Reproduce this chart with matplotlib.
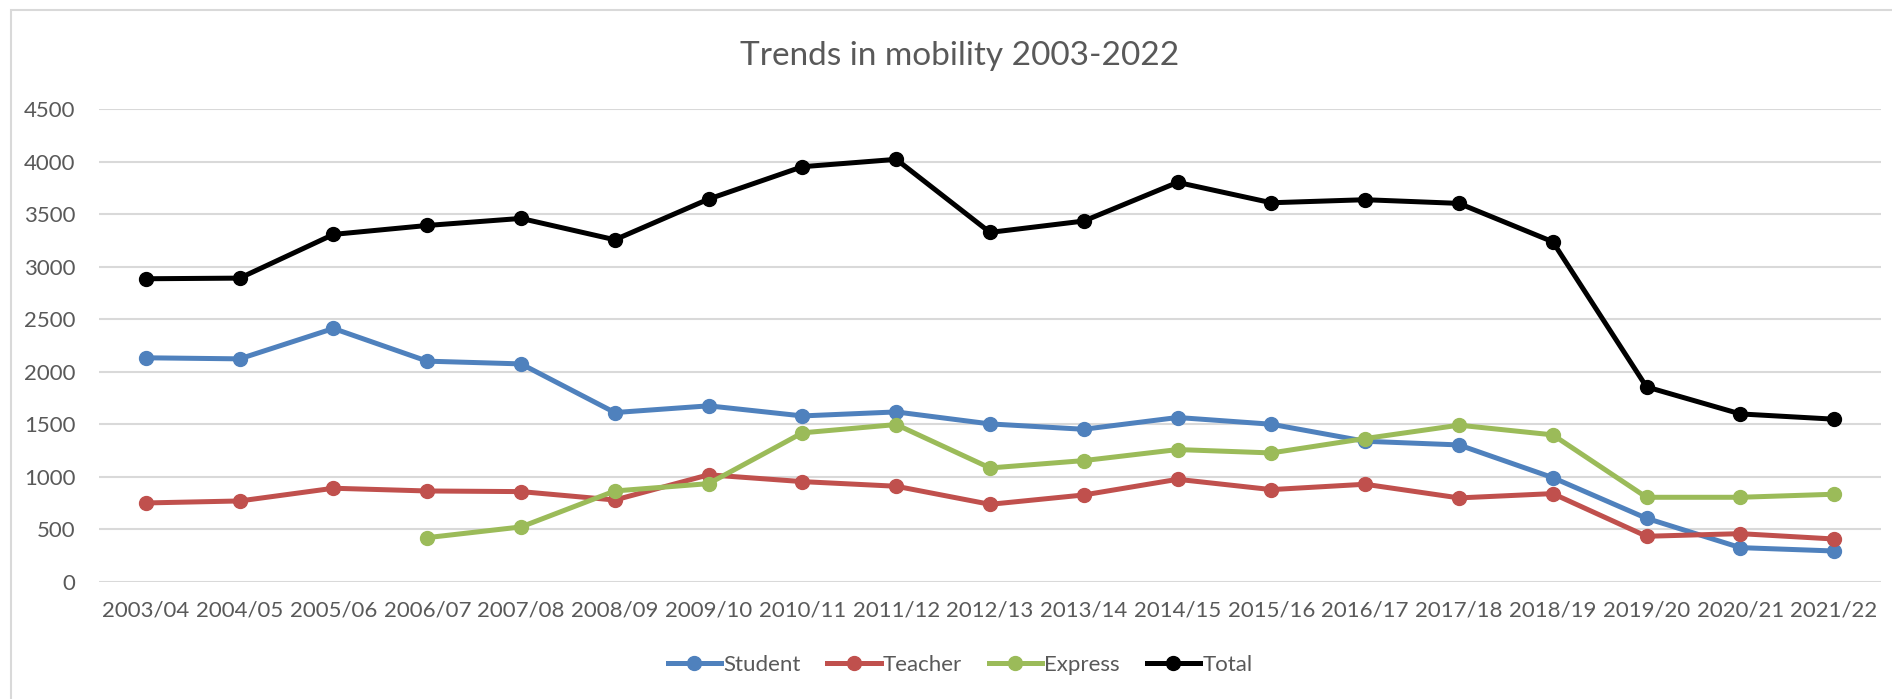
import numpy as np
import matplotlib
matplotlib.use("Agg")
import matplotlib.pyplot as plt
from matplotlib.patches import Rectangle

plt.rcParams['font.family'] = ['Lato', 'DejaVu Sans']

years = ['2003/04', '2004/05', '2005/06', '2006/07', '2007/08', '2008/09', '2009/10',
         '2010/11', '2011/12', '2012/13', '2013/14', '2014/15', '2015/16', '2016/17',
         '2017/18', '2018/19', '2019/20', '2020/21', '2021/22']
student = [2133, 2123, 2412, 2101, 2075, 1612, 1676, 1580, 1618, 1504, 1453, 1565, 1501,
           1339, 1304, 993, 606, 327, 295]
teacher = [752, 771, 892, 866, 860, 780, 1020, 955, 911, 739, 828, 977, 879,
           930, 800, 841, 435, 460, 409]
express = [np.nan, np.nan, np.nan, 422, 524, 866, 936, 1419, 1498, 1085, 1155, 1260, 1228,
           1365, 1492, 1400, 806, 806, 835]
total = [2885, 2891, 3307, 3392, 3459, 3256, 3643, 3951, 4021, 3326, 3434, 3802, 3608,
         3637, 3602, 3237, 1856, 1599, 1549]

series = [('Student', student, '#4F81BD'),
          ('Teacher', teacher, '#C0504D'),
          ('Express', express, '#9BBB59'),
          ('Total', total, '#000000')]

fig = plt.figure(figsize=(18.92, 6.99), dpi=100)
ax = fig.add_axes([99 / 1892, 1 - 582 / 699, 1782 / 1892, 473 / 699])

# outer chart frame (only top and left edges show in the crop)
fig.patches.append(Rectangle((11 / 1892, -0.1), 2, 1.1 - 10 / 699, transform=fig.transFigure,
                             fill=False, edgecolor='#D9D9D9', linewidth=1.5))

x = np.arange(len(years))
for name, vals, col in series:
    ax.plot(x, vals, '-o', color=col, lw=3.6, ms=10, label=name, zorder=3)

ax.set_xlim(-0.5, len(years) - 0.5)
ax.set_ylim(0, 4500)
ax.set_yticks(np.arange(0, 4501, 500))
ax.set_xticks(x)
ax.set_xticklabels(years)
ax.grid(axis='y', color='#D9D9D9', lw=1.5)
ax.set_axisbelow(True)
for s in ax.spines.values():
    s.set_visible(False)
ax.tick_params(length=0, labelsize=16, labelcolor='#595959')
ax.tick_params(axis='y', pad=17)
ax.tick_params(axis='x', pad=13)

fig.text(960 / 1892, 1 - 56 / 699, 'Trends in mobility 2003-2022', ha='center', va='center',
         fontsize=24, color='#595959')

ax.legend(loc='center', bbox_to_anchor=(960 / 1892, 1 - 665 / 699), bbox_transform=fig.transFigure,
          ncol=4, frameon=False, fontsize=16, handlelength=2.4, handletextpad=0.1,
          columnspacing=1.2, labelcolor='#595959')

plt.savefig('out.png', dpi=100)
